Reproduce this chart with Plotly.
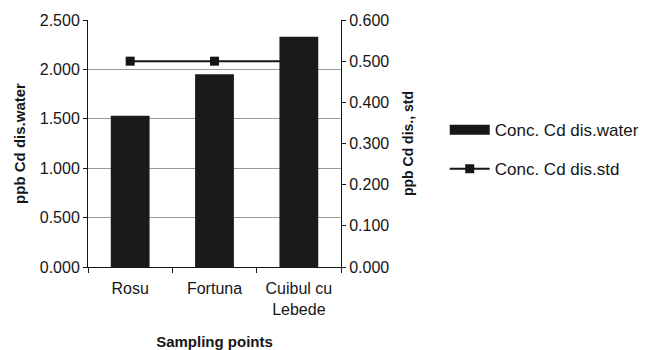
import plotly.graph_objects as go

categories = ["Rosu", "Fortuna", "Cuibul cu<br>Lebede"]
water = [1.53, 1.95, 2.33]
std = [0.50, 0.50, 0.50]
left_ticks = [0, 0.5, 1.0, 1.5, 2.0, 2.5]
right_ticks = [0, 0.1, 0.2, 0.3, 0.4, 0.5, 0.6]

font = "Liberation Sans, Arial, sans-serif"
ink = "#161616"

fig = go.Figure()
fig.add_trace(go.Scatter(
    x=categories, y=std, name="Conc. Cd dis.std", yaxis="y",
    mode="lines+markers", line=dict(color=ink, width=2),
    marker=dict(symbol="square", size=9, color=ink),
    legendgroup="b", legendrank=2,
))
fig.add_trace(go.Bar(
    x=categories, y=water, name="Conc. Cd dis.water", yaxis="y2",
    marker=dict(color="#1a1a1a", line=dict(width=0)), width=0.46,
    showlegend=False,
))
# legend-only entry giving the wide filled rectangle swatch
fig.add_trace(go.Scatter(
    x=[None], y=[None], name="Conc. Cd dis.water", yaxis="y2",
    mode="lines", line=dict(color=ink, width=11),
    legendgroup="a", legendrank=1,
))

fig.update_layout(
    width=657, height=350,
    margin=dict(l=88, r=316, t=20, b=83),
    paper_bgcolor="white", plot_bgcolor="white",
    font=dict(family=font, size=16, color=ink),
    showlegend=True,
    legend=dict(x=1.41, y=0.475, xanchor="left", yanchor="middle",
                font=dict(size=17), itemwidth=40, tracegroupgap=14,
                bgcolor="rgba(0,0,0,0)"),
    xaxis=dict(type="category", showline=True, linecolor=ink,
               linewidth=1, ticks="outside", tickson="boundaries",
               ticklen=5, tickcolor=ink, showgrid=False,
               ticklabelstandoff=7, automargin=False,
               tickfont=dict(size=16),
               title=dict(text="<b>Sampling points</b>", font=dict(size=15), standoff=20)),
    yaxis=dict(side="right", range=[0, 0.6], tickvals=right_ticks,
               tickformat=".3f", showline=True, linecolor=ink,
               ticks="outside", ticklen=4, tickcolor=ink, automargin=False,
               showgrid=False, zeroline=False, tickfont=dict(size=16),
               title=dict(text="<b>ppb Cd dis., std</b>", font=dict(size=14), standoff=14)),
    yaxis2=dict(side="left", overlaying="y", range=[0, 2.5], tickvals=left_ticks,
                tickformat=".3f", showline=True, linecolor=ink,
                ticks="outside", ticklen=4, tickcolor=ink, automargin=False,
                showgrid=True, gridcolor="#9a9a9a", gridwidth=1,
                zeroline=False, tickfont=dict(size=16),
                title=dict(text="<b>ppb Cd dis.water</b>", font=dict(size=15), standoff=10)),
)

fig.write_html("out.html")
